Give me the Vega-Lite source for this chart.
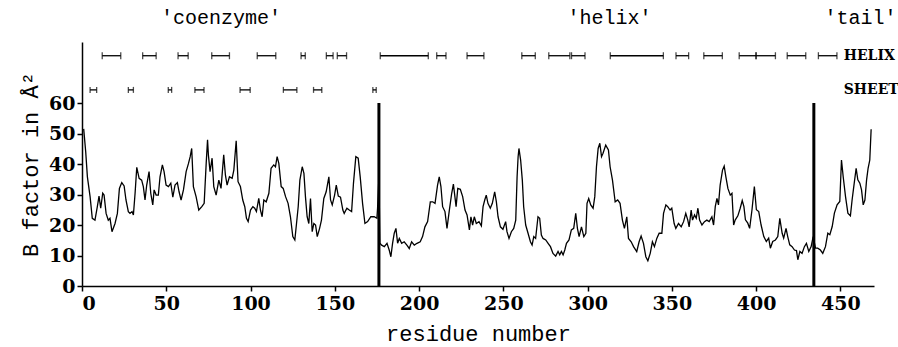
{
  "$schema": "https://vega.github.io/schema/vega-lite/v6.json",
  "autosize": "none",
  "width": 792,
  "height": 244,
  "padding": {"left": 82, "top": 42, "right": 24, "bottom": 61},
  "background": "white",
  "config": {
    "view": {"stroke": null},
    "axis": {"grid": false, "domainColor": "black", "domainWidth": 1.5, "tickColor": "black", "tickWidth": 1.5, "tickSize": 5, "labelColor": "black", "labelFont": "DejaVu Serif", "labelFontSize": 19, "labelFontWeight": "bold", "titleColor": "black", "titleFont": "Liberation Mono", "titleFontSize": 22, "titleFontWeight": "normal"}
  },
  "datasets": {
    "bf": [
      {"residue":1.0,"B":51.5},{"residue":2.2,"B":44.0},{"residue":3.2,"B":35.8},{"residue":4.8,"B":29.3},{"residue":6.1,"B":22.2},{"residue":7.7,"B":21.6},{"residue":9.1,"B":26.0},{"residue":10.1,"B":29.5},{"residue":11.1,"B":25.5},{"residue":12.3,"B":30.4},{"residue":13.1,"B":29.8},{"residue":14.3,"B":23.8},{"residue":15.6,"B":21.6},{"residue":16.6,"B":22.2},{"residue":17.8,"B":17.8},{"residue":19.6,"B":20.5},{"residue":21.0,"B":23.8},{"residue":22.2,"B":32.0},{"residue":23.6,"B":33.9},{"residue":25.0,"B":32.8},{"residue":26.1,"B":28.2},{"residue":27.5,"B":24.4},{"residue":28.5,"B":23.8},{"residue":29.7,"B":24.4},{"residue":30.5,"B":23.3},{"residue":31.5,"B":30.4},{"residue":32.5,"B":38.9},{"residue":33.9,"B":35.3},{"residue":35.4,"B":34.7},{"residue":36.4,"B":32.6},{"residue":37.4,"B":28.2},{"residue":38.4,"B":33.1},{"residue":39.8,"B":37.5},{"residue":40.8,"B":30.4},{"residue":42.0,"B":26.6},{"residue":42.8,"B":31.5},{"residue":44.0,"B":29.8},{"residue":45.3,"B":29.8},{"residue":46.3,"B":35.8},{"residue":47.7,"B":39.7},{"residue":48.7,"B":37.5},{"residue":49.9,"B":33.1},{"residue":51.3,"B":32.6},{"residue":52.7,"B":33.7},{"residue":53.9,"B":29.1},{"residue":55.2,"B":33.1},{"residue":56.6,"B":33.9},{"residue":57.6,"B":30.9},{"residue":58.8,"B":28.2},{"residue":60.2,"B":31.5},{"residue":61.8,"B":37.5},{"residue":63.2,"B":40.2},{"residue":64.2,"B":42.4},{"residue":65.1,"B":45.1},{"residue":66.1,"B":32.6},{"residue":67.7,"B":29.3},{"residue":69.3,"B":24.9},{"residue":71.1,"B":26.0},{"residue":72.5,"B":27.1},{"residue":73.7,"B":40.2},{"residue":74.5,"B":47.9},{"residue":75.0,"B":43.0},{"residue":76.0,"B":37.5},
      {"residue":77.2,"B":41.9},{"residue":78.2,"B":32.6},{"residue":79.6,"B":29.8},{"residue":81.2,"B":34.7},{"residue":82.5,"B":32.0},{"residue":84.1,"B":43.0},{"residue":85.1,"B":36.4},{"residue":86.1,"B":33.1},{"residue":87.5,"B":35.8},{"residue":89.1,"B":35.3},{"residue":90.1,"B":38.0},{"residue":91.5,"B":47.6},{"residue":92.6,"B":34.2},{"residue":94.0,"B":32.6},{"residue":95.4,"B":28.2},{"residue":96.6,"B":26.0},{"residue":97.6,"B":22.2},{"residue":98.6,"B":21.1},{"residue":100.0,"B":24.9},{"residue":101.4,"B":26.0},{"residue":102.5,"B":25.5},{"residue":103.5,"B":24.4},{"residue":104.9,"B":28.7},{"residue":105.9,"B":24.9},{"residue":106.9,"B":22.7},{"residue":107.9,"B":28.2},{"residue":109.3,"B":27.6},{"residue":110.9,"B":30.4},{"residue":112.2,"B":38.6},{"residue":113.8,"B":39.7},{"residue":114.8,"B":39.1},{"residue":115.8,"B":42.4},{"residue":116.8,"B":40.2},{"residue":118.2,"B":32.6},{"residue":119.4,"B":32.0},{"residue":120.8,"B":29.3},{"residue":122.3,"B":27.1},{"residue":123.7,"B":22.7},{"residue":125.1,"B":16.2},{"residue":126.3,"B":15.1},{"residue":127.3,"B":20.5},{"residue":128.3,"B":26.0},{"residue":129.3,"B":34.7},{"residue":130.7,"B":39.1},{"residue":131.7,"B":36.9},{"residue":132.6,"B":29.3},{"residue":133.6,"B":22.7},{"residue":134.6,"B":20.5},{"residue":135.6,"B":28.7},{"residue":136.6,"B":17.8},{"residue":137.6,"B":20.5},{"residue":138.6,"B":20.0},{"residue":139.6,"B":16.2},{"residue":141.0,"B":18.9},{"residue":142.1,"B":21.6},{"residue":143.5,"B":28.7},{"residue":144.9,"B":30.9},{"residue":146.5,"B":35.8},{"residue":147.5,"B":28.2},{"residue":148.5,"B":26.6},{"residue":149.9,"B":29.8},{"residue":150.9,"B":33.1},{"residue":152.1,"B":29.5},{"residue":153.4,"B":29.1},{"residue":154.8,"B":24.9},
      {"residue":155.6,"B":23.8},{"residue":157.2,"B":25.5},{"residue":158.6,"B":24.9},{"residue":160.0,"B":24.4},{"residue":161.1,"B":33.7},{"residue":162.5,"B":42.4},{"residue":163.9,"B":41.9},{"residue":165.1,"B":35.8},{"residue":166.5,"B":27.1},{"residue":167.9,"B":20.5},{"residue":169.5,"B":21.1},{"residue":171.4,"B":22.7},{"residue":173.4,"B":22.7},{"residue":175.0,"B":22.2},{"residue":175.4,"B":25.5},{"residue":176.2,"B":35.8},{"residue":176.8,"B":14.0},{"residue":177.8,"B":13.4},{"residue":179.4,"B":12.9},{"residue":181.0,"B":14.0},{"residue":182.3,"B":11.8},{"residue":183.3,"B":9.6},{"residue":184.3,"B":14.0},{"residue":185.3,"B":17.3},{"residue":186.3,"B":18.9},{"residue":187.3,"B":14.0},{"residue":188.3,"B":15.6},{"residue":189.7,"B":14.0},{"residue":191.2,"B":14.5},{"residue":192.8,"B":13.4},{"residue":194.2,"B":12.3},{"residue":195.6,"B":14.5},{"residue":197.2,"B":13.4},{"residue":198.8,"B":14.0},{"residue":200.7,"B":14.5},{"residue":202.1,"B":16.2},{"residue":203.5,"B":19.4},{"residue":205.1,"B":21.1},{"residue":206.7,"B":27.6},{"residue":208.1,"B":27.6},{"residue":209.5,"B":27.1},{"residue":211.0,"B":33.1},{"residue":212.0,"B":35.8},{"residue":213.0,"B":32.6},{"residue":214.0,"B":26.0},{"residue":215.4,"B":24.4},{"residue":216.6,"B":18.9},{"residue":218.0,"B":24.9},{"residue":219.4,"B":30.4},{"residue":220.4,"B":33.4},{"residue":222.0,"B":26.0},{"residue":223.0,"B":32.0},{"residue":224.5,"B":31.7},{"residue":225.9,"B":29.3},{"residue":227.3,"B":24.9},{"residue":228.5,"B":23.3},{"residue":229.9,"B":18.4},{"residue":230.8,"B":22.7},{"residue":231.8,"B":20.0},{"residue":232.8,"B":22.7},
      {"residue":234.0,"B":20.5},{"residue":235.6,"B":21.1},{"residue":237.0,"B":19.7},{"residue":238.0,"B":26.0},{"residue":239.0,"B":28.2},{"residue":239.9,"B":29.8},{"residue":240.9,"B":27.1},{"residue":242.3,"B":25.5},{"residue":243.5,"B":27.1},{"residue":244.9,"B":30.9},{"residue":245.9,"B":27.6},{"residue":246.9,"B":22.7},{"residue":248.3,"B":19.4},{"residue":249.8,"B":18.6},{"residue":251.4,"B":21.1},{"residue":252.2,"B":17.8},{"residue":253.4,"B":15.6},{"residue":254.8,"B":17.8},{"residue":256.2,"B":18.9},{"residue":257.4,"B":21.6},{"residue":258.2,"B":35.8},{"residue":258.8,"B":42.4},{"residue":259.3,"B":45.1},{"residue":260.3,"B":41.3},{"residue":261.3,"B":34.7},{"residue":262.1,"B":26.0},{"residue":263.3,"B":20.0},{"residue":264.7,"B":17.3},{"residue":266.1,"B":14.5},{"residue":267.1,"B":13.4},{"residue":268.1,"B":16.2},{"residue":269.2,"B":15.6},{"residue":270.6,"B":22.7},{"residue":271.6,"B":22.2},{"residue":272.6,"B":16.7},{"residue":273.6,"B":15.6},{"residue":275.2,"B":15.1},{"residue":276.6,"B":14.0},{"residue":278.0,"B":12.9},{"residue":279.5,"B":10.7},{"residue":281.1,"B":9.8},{"residue":282.5,"B":11.3},{"residue":283.5,"B":10.2},{"residue":284.5,"B":11.3},{"residue":285.5,"B":10.2},{"residue":286.5,"B":11.8},{"residue":287.5,"B":14.0},{"residue":289.0,"B":15.1},{"residue":290.4,"B":18.4},{"residue":291.8,"B":18.9},{"residue":293.0,"B":23.8},{"residue":294.0,"B":18.9},{"residue":295.0,"B":16.2},{"residue":296.4,"B":19.4},{"residue":297.8,"B":16.2},{"residue":299.0,"B":17.3},{"residue":299.7,"B":27.1},{"residue":300.7,"B":28.7},{"residue":301.9,"B":26.6},{"residue":303.3,"B":25.5},{"residue":304.3,"B":29.3},{"residue":305.3,"B":39.1},{"residue":306.3,"B":45.1},{"residue":307.3,"B":46.8},{"residue":308.3,"B":42.4},{"residue":309.2,"B":43.5},{"residue":310.8,"B":46.2},
      {"residue":312.4,"B":44.6},{"residue":313.4,"B":39.1},{"residue":314.8,"B":34.7},{"residue":316.4,"B":27.6},{"residue":317.9,"B":28.2},{"residue":319.3,"B":27.1},{"residue":320.7,"B":21.6},{"residue":321.9,"B":18.9},{"residue":323.3,"B":22.7},{"residue":324.3,"B":15.6},{"residue":325.9,"B":14.5},{"residue":327.3,"B":12.9},{"residue":329.2,"B":11.3},{"residue":330.6,"B":14.5},{"residue":331.8,"B":16.4},{"residue":333.2,"B":14.0},{"residue":334.6,"B":9.6},{"residue":335.8,"B":8.3},{"residue":337.2,"B":10.7},{"residue":338.5,"B":14.5},{"residue":339.7,"B":12.9},{"residue":341.1,"B":15.6},{"residue":342.5,"B":17.3},{"residue":344.1,"B":17.3},{"residue":345.1,"B":23.8},{"residue":346.5,"B":26.6},{"residue":347.6,"B":26.0},{"residue":349.0,"B":24.9},{"residue":350.0,"B":25.5},{"residue":351.4,"B":20.5},{"residue":352.4,"B":18.9},{"residue":354.0,"B":20.5},{"residue":355.6,"B":19.4},{"residue":357.0,"B":21.1},{"residue":358.3,"B":23.8},{"residue":359.5,"B":21.6},{"residue":360.3,"B":19.4},{"residue":361.5,"B":24.9},{"residue":362.3,"B":21.6},{"residue":363.5,"B":23.3},{"residue":364.5,"B":22.2},{"residue":365.5,"B":25.5},{"residue":366.5,"B":21.6},{"residue":367.9,"B":20.0},{"residue":369.4,"B":21.1},{"residue":370.8,"B":21.6},{"residue":372.2,"B":21.1},{"residue":373.8,"B":22.7},{"residue":374.8,"B":20.0},{"residue":375.8,"B":26.0},{"residue":376.8,"B":28.7},{"residue":377.7,"B":26.6},{"residue":378.7,"B":33.1},{"residue":380.1,"B":38.0},{"residue":381.1,"B":39.3},{"residue":382.1,"B":35.8},{"residue":383.3,"B":32.0},{"residue":384.7,"B":29.8},{"residue":385.7,"B":30.4},{"residue":386.7,"B":20.0},{"residue":387.6,"B":21.6},{"residue":389.2,"B":23.0},{"residue":390.6,"B":25.5},{"residue":391.8,"B":28.0},
      {"residue":392.8,"B":26.0},{"residue":393.7,"B":21.7},{"residue":395.1,"B":20.6},{"residue":396.2,"B":18.9},{"residue":397.6,"B":25.0},{"residue":399.0,"B":32.6},{"residue":400.2,"B":25.0},{"residue":401.6,"B":24.4},{"residue":403.0,"B":20.0},{"residue":404.6,"B":16.2},{"residue":406.1,"B":14.6},{"residue":407.5,"B":15.7},{"residue":408.5,"B":12.4},{"residue":409.9,"B":14.6},{"residue":411.5,"B":15.1},{"residue":412.9,"B":16.2},{"residue":414.1,"B":22.2},{"residue":415.5,"B":17.3},{"residue":416.4,"B":15.7},{"residue":417.8,"B":18.9},{"residue":418.8,"B":16.2},{"residue":420.0,"B":13.5},{"residue":421.4,"B":12.9},{"residue":422.8,"B":11.8},{"residue":424.0,"B":11.6},{"residue":424.8,"B":8.6},{"residue":426.0,"B":11.3},{"residue":427.3,"B":10.7},{"residue":428.7,"B":12.9},{"residue":429.9,"B":14.0},{"residue":431.3,"B":11.3},{"residue":432.7,"B":12.9},{"residue":433.9,"B":16.2},{"residue":435.3,"B":12.4},{"residue":436.6,"B":12.4},{"residue":438.2,"B":11.8},{"residue":439.6,"B":10.7},{"residue":441.2,"B":12.9},{"residue":442.6,"B":17.3},{"residue":443.8,"B":16.8},{"residue":445.2,"B":19.5},{"residue":446.5,"B":23.9},{"residue":448.1,"B":26.6},{"residue":449.7,"B":27.7},{"residue":450.7,"B":41.3},{"residue":451.7,"B":35.9},{"residue":453.1,"B":29.3},{"residue":454.5,"B":23.9},{"residue":456.0,"B":23.0},{"residue":457.0,"B":28.2},{"residue":458.0,"B":32.6},{"residue":459.4,"B":38.6},{"residue":460.4,"B":34.8},{"residue":461.6,"B":33.7},{"residue":462.6,"B":31.5},{"residue":463.6,"B":26.6},{"residue":464.6,"B":28.2},{"residue":465.6,"B":34.8},{"residue":466.5,"B":38.6},{"residue":467.5,"B":41.3},{"residue":468.3,"B":51.4}
    ],
    "helix": [
      {"start":12,"end":23},{"start":36,"end":44},{"start":57,"end":63},{"start":77,"end":87.5},{"start":104,"end":115},{"start":130,"end":132.5},{"start":145,"end":149},{"start":151.5,"end":157},{"start":177,"end":205.5},{"start":210.5,"end":216},{"start":228.5,"end":238.5},{"start":261,"end":269},{"start":277,"end":289.5},{"start":290.5,"end":298.5},{"start":313.5,"end":345},{"start":352.5,"end":360},{"start":369,"end":380},{"start":390,"end":400},{"start":400,"end":411.5},{"start":418.5,"end":429.5},{"start":437,"end":448}
    ],
    "sheet": [
      {"start":4.8,"end":8.7},{"start":27.5,"end":30.5},{"start":51.2,"end":53.2},{"start":67,"end":72.4},{"start":93.8,"end":99.8},{"start":119.5,"end":127.5},{"start":137.4,"end":142.3},{"start":172.6,"end":174.6}
    ],
    "domains": [
      {"residue":176.2},{"residue":434.3}
    ],
    "sections": [
      {"label":"'coenzyme'","residue":82.5},{"label":"'helix'","residue":313},{"label":"'tail'","residue":462}
    ],
    "rows": [
      {"label":"HELIX","residue":452,"row":"helix"},{"label":"SHEET","residue":452,"row":"sheet"}
    ]
  },
  "layer": [
    {
      "data": {"name": "bf"},
      "mark": {"type": "line", "color": "black", "strokeWidth": 1.3},
      "encoding": {
        "x": {"field": "residue", "type": "quantitative", "scale": {"domain": [0, 470], "nice": false, "zero": false}, "axis": {"values": [0,50,100,150,200,250,300,350,400,450], "title": "residue number", "labelPadding": 3, "titlePadding": 10}},
        "y": {"field": "B", "type": "quantitative", "scale": {"domain": [0, 80], "nice": false}, "axis": {"values": [0,10,20,30,40,50,60], "title": "B factor in Å²", "labelPadding": 2, "titlePadding": 6}}
      }
    },
    {
      "data": {"name": "domains"},
      "mark": {"type": "rule", "color": "black", "strokeWidth": 3},
      "encoding": {"x": {"field": "residue", "type": "quantitative"}, "y": {"datum": 0}, "y2": {"datum": 60}}
    },
    {
      "data": {"name": "helix"},
      "mark": {"type": "rule", "color": "black", "strokeWidth": 1.3},
      "encoding": {"x": {"field": "start", "type": "quantitative"}, "x2": {"field": "end"}, "y": {"datum": 75.5}}
    },
    {
      "data": {"name": "helix"},
      "transform": [{"fold": ["start", "end"], "as": ["side", "pos"]}],
      "mark": {"type": "tick", "orient": "vertical", "color": "black", "size": 7, "thickness": 1.3},
      "encoding": {"x": {"field": "pos", "type": "quantitative"}, "y": {"datum": 75.5}}
    },
    {
      "data": {"name": "sheet"},
      "mark": {"type": "rule", "color": "black", "strokeWidth": 1.3},
      "encoding": {"x": {"field": "start", "type": "quantitative"}, "x2": {"field": "end"}, "y": {"datum": 64.3}}
    },
    {
      "data": {"name": "sheet"},
      "transform": [{"fold": ["start", "end"], "as": ["side", "pos"]}],
      "mark": {"type": "tick", "orient": "vertical", "color": "black", "size": 6, "thickness": 1.3},
      "encoding": {"x": {"field": "pos", "type": "quantitative"}, "y": {"datum": 64.3}}
    },
    {
      "data": {"name": "sections"},
      "mark": {"type": "text", "font": "Liberation Mono", "fontSize": 20, "color": "black", "align": "center", "baseline": "middle"},
      "encoding": {"x": {"field": "residue", "type": "quantitative"}, "y": {"datum": 87.9}, "text": {"field": "label"}}
    },
    {
      "data": {"name": "rows"},
      "transform": [{"filter": "datum.row === 'helix'"}],
      "mark": {"type": "text", "font": "DejaVu Serif", "fontSize": 14, "fontWeight": "bold", "color": "black", "align": "left", "baseline": "middle"},
      "encoding": {"x": {"field": "residue", "type": "quantitative"}, "y": {"datum": 75.5}, "text": {"field": "label"}}
    },
    {
      "data": {"name": "rows"},
      "transform": [{"filter": "datum.row === 'sheet'"}],
      "mark": {"type": "text", "font": "DejaVu Serif", "fontSize": 14, "fontWeight": "bold", "color": "black", "align": "left", "baseline": "middle"},
      "encoding": {"x": {"field": "residue", "type": "quantitative"}, "y": {"datum": 64.3}, "text": {"field": "label"}}
    }
  ]
}
